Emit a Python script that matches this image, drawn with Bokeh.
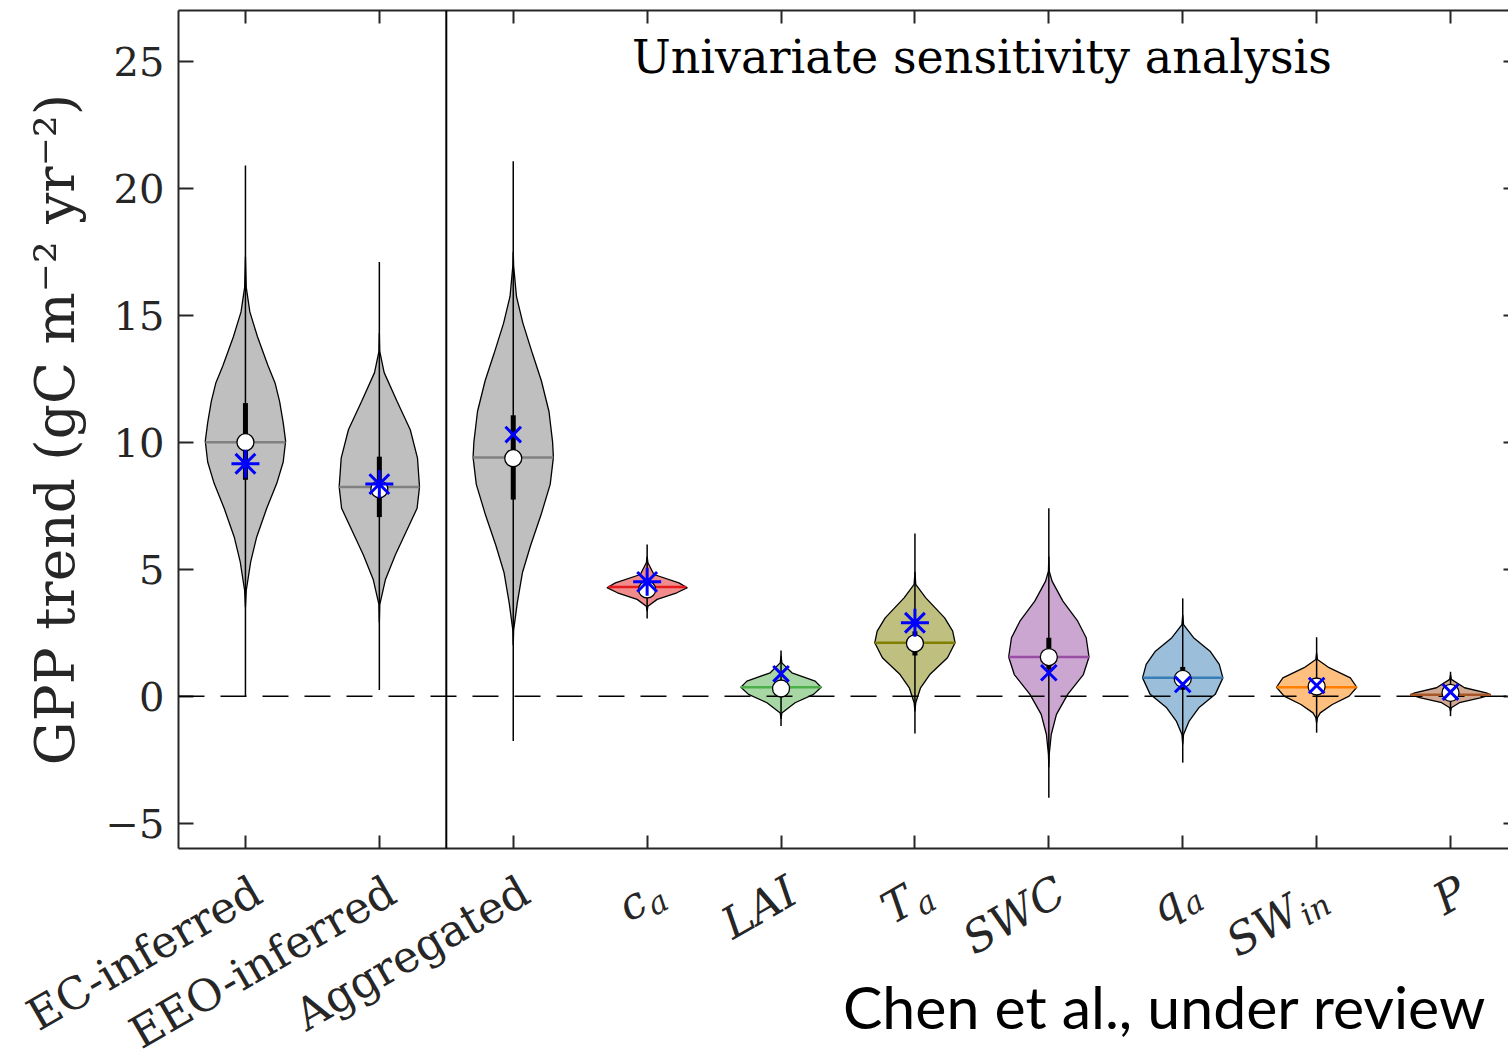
import numpy as np
from math import pi, cos, sin
from bokeh.plotting import figure
from bokeh.layouts import column
from bokeh.models import FixedTicker, LinearAxis, Label, Span, ColumnDataSource
from bokeh.core.properties import value
from bokeh.embed import file_html
from bokeh.resources import INLINE

# ---------------- data ----------------
label_base = ["EC-inferred", "EEO-inferred", "Aggregated", "c", "LAI", "T", "SWC", "q", "SW", "P"]
label_sub = ["", "", "", "a", "", "a", "", "a", "in", ""]
label_italic = [False, False, False, True, True, True, True, True, True, True]

# violin outlines: GPP-trend levels and relative half widths (1 = widest)
prof_y = [
    [17.3, 16.1, 15.13, 14.15, 13.02, 12.32, 11.61, 10.77, 10.04, 9.22, 8.38, 7.40, 6.27, 5.29, 4.16, 3.5],
    [14.3, 13.58, 12.74, 11.61, 10.49, 9.37, 8.24, 7.40, 6.55, 5.57, 4.58, 3.6, 2.9],
    [17.5, 16.95, 15.74, 14.69, 13.48, 12.42, 11.21, 10.0, 9.40, 8.34, 7.13, 5.92, 4.87, 3.66, 2.6, 2.0],
    [5.5, 5.25, 4.79, 4.46, 4.27, 4.07, 3.81, 3.54, 3.35],
    [1.6, 1.31, 0.92, 0.59, 0.35, 0.07, -0.26, -0.66, -0.9],
    [4.9, 4.40, 3.87, 3.08, 2.56, 2.10, 1.51, 0.85, 0.33, -0.26, -0.6],
    [5.5, 4.92, 4.53, 3.74, 2.95, 2.30, 1.54, 0.85, 0.07, -0.72, -1.51, -2.29, -2.8],
    [3.2, 2.82, 2.30, 1.77, 1.25, 0.72, 0.07, -0.46, -0.98, -1.51, -1.9],
    [1.7, 1.44, 1.12, 0.72, 0.35, 0.0, -0.33, -0.66, -0.85, -1.05],
    [0.85, 0.66, 0.33, 0.13, 0.05, -0.07, -0.26, -0.46, -0.6],
]
prof_w = [
    [0, .02, .11, .30, .56, .74, .85, .94, 1.0, .94, .78, .53, .28, .13, .02, 0],
    [0, .01, .12, .44, .77, .95, 1.0, .94, .69, .40, .15, .01, 0],
    [0, .01, .08, .24, .48, .70, .89, .98, 1.0, .92, .69, .43, .23, .10, .01, 0],
    [0, .02, .17, .79, 1.0, .74, .25, .02, 0],
    [0, .02, .27, .85, 1.0, .81, .35, .02, 0],
    [0, .02, .27, .74, .94, 1.0, .81, .37, .14, .02, 0],
    [0, .01, .08, .35, .72, .93, 1.0, .86, .47, .19, .06, .01, 0],
    [0, .02, .27, .68, .91, 1.0, .81, .40, .16, .02, 0],
    [0, .02, .31, .84, 1.0, .81, .39, .09, .02, 0],
    [0, .02, .35, .89, 1.0, .74, .22, .02, 0],
]
mean_val = [10.0, 8.24, 9.40, 4.30, 0.35, 2.10, 1.54, 0.72, 0.35, 0.05]
median_val = [10.0, 8.15, 9.37, 4.20, 0.30, 2.08, 1.54, 0.68, 0.38, 0.13]
q1 = [8.52, 7.05, 7.74, 4.12, 0.20, 1.60, 1.05, 0.25, 0.10, -0.05]
q3 = [11.54, 9.43, 11.06, 4.48, 0.50, 2.55, 2.30, 1.15, 0.60, 0.25]
whisk_lo = [0.0, 0.24, -1.77, 3.06, -1.18, -1.47, -4.0, -2.62, -1.44, -0.79]
whisk_hi = [20.9, 17.1, 21.06, 5.97, 1.80, 6.40, 7.40, 3.85, 2.32, 0.96]
model_val = [9.15, 8.35, 10.3, 4.5, 0.88, 2.89, 0.92, 0.46, 0.42, 0.16]
model_marker = ["asterisk", "asterisk", "x", "asterisk", "x", "asterisk", "x", "x", "x", "x"]
base_colors = ["#808080", "#808080", "#808080", "#E41A1C", "#4DAF4A", "#808000",
               "#984EA3", "#377EB8", "#FF7F00", "#A65628"]
y_ticks = [-5, 0, 5, 10, 15, 20, 25]
title_text = "Univariate sensitivity analysis"
credit_text = "Chen et al., under review"

# ---------------- layout / styling ----------------
W = 1508
FRAME_LEFT = 178
FRAME_BOTTOM = 848
TOP_H = 852                  # height of the main plot canvas
BOT_H = 1060 - TOP_H         # canvas that holds the rotated category labels
X0, X1 = 0.5, 10.433
PPU = (W - FRAME_LEFT) / (X1 - X0)   # pixels per category unit
HALF_W = 0.30
AX = "#262626"
SERIF = "DejaVu Serif"

xpos = list(range(1, len(label_base) + 1))

p = figure(width=W, height=TOP_H, x_range=(X0, X1), y_range=(-6, 27),
           output_backend="svg", toolbar_location=None,
           min_border_left=FRAME_LEFT, min_border_right=0, min_border_top=10,
           min_border_bottom=TOP_H - FRAME_BOTTOM)
p.grid.visible = False
p.outline_line_color = None

# left axis
p.yaxis.ticker = FixedTicker(ticks=y_ticks)
p.yaxis.major_tick_in = 15
p.yaxis.major_tick_out = 0
p.yaxis.minor_tick_line_color = None
p.yaxis.axis_line_width = 2
p.yaxis.axis_line_color = AX
p.yaxis.major_tick_line_width = 2
p.yaxis.major_tick_line_color = AX
p.yaxis.major_label_text_font = SERIF
p.yaxis.major_label_text_font_size = "40px"
p.yaxis.major_label_text_color = AX
p.yaxis.major_label_standoff = 14
p.yaxis.axis_label = "GPP trend (gC m⁻² yr⁻²)"
p.yaxis.axis_label_text_font = SERIF
p.yaxis.axis_label_text_font_size = "55px"
p.yaxis.axis_label_text_font_style = "normal"
p.yaxis.axis_label_text_color = AX
p.yaxis.axis_label_standoff = 16

# bottom / top / right axes: ticks only
p.xaxis.ticker = FixedTicker(ticks=xpos)
p.xaxis.major_tick_in = 13
p.xaxis.major_tick_out = 0
p.xaxis.minor_tick_line_color = None
p.xaxis.axis_line_width = 2
p.xaxis.axis_line_color = AX
p.xaxis.major_tick_line_width = 2
p.xaxis.major_tick_line_color = AX
p.xaxis.major_label_text_color = None
p.xaxis.major_label_standoff = 0

top_ax = LinearAxis(ticker=FixedTicker(ticks=xpos), major_tick_in=13, major_tick_out=0,
                    minor_tick_line_color=None, axis_line_width=2, axis_line_color=AX,
                    major_tick_line_width=2, major_tick_line_color=AX,
                    major_label_text_color=None, major_label_standoff=0)
p.add_layout(top_ax, "above")
right_ax = LinearAxis(ticker=FixedTicker(ticks=y_ticks), major_tick_in=5, major_tick_out=0,
                      minor_tick_line_color=None, axis_line_color=None,
                      major_tick_line_width=2, major_tick_line_color=AX,
                      major_label_text_color=None, major_label_standoff=0)
p.add_layout(right_ax, "right")

# violins
xs, ys = [], []
mx0, mx1 = [], []
for i, (yy, ww) in enumerate(zip(prof_y, prof_w)):
    c = xpos[i]
    yy = np.asarray(yy, float)
    ww = np.asarray(ww, float) * HALF_W
    xs.append(list(c + ww) + list(c - ww[::-1]))
    ys.append(list(yy) + list(yy[::-1]))
    hw = np.interp(mean_val[i], yy[::-1], ww[::-1])
    mx0.append(c - hw)
    mx1.append(c + hw)

vsrc = ColumnDataSource(dict(xs=xs, ys=ys, color=base_colors))
p.patches("xs", "ys", source=vsrc, fill_color="color", fill_alpha=0.5,
          line_color="black", line_width=1.3)

p.add_layout(Span(location=0, dimension="width", line_color="black", line_width=1.5,
                  line_dash="26 16", level="guide"))
p.add_layout(Span(location=2.5, dimension="height", line_color="black", line_width=2))

src = ColumnDataSource(dict(x=xpos, mx0=mx0, mx1=mx1, mean=mean_val, med=median_val,
                            q1=q1, q3=q3, lo=whisk_lo, hi=whisk_hi, color=base_colors))
r = p.segment(x0="mx0", y0="mean", x1="mx1", y1="mean", source=src, line_color="color", line_width=2.5)
r.level = "annotation"
r = p.segment(x0="x", y0="lo", x1="x", y1="hi", source=src, line_color="black", line_width=1.5)
r.level = "annotation"
r = p.segment(x0="x", y0="q1", x1="x", y1="q3", source=src, line_color="black", line_width=5)
r.level = "annotation"
r = p.scatter("x", "med", source=src, marker="circle", size=17, fill_color="white",
              line_color="black", line_width=1.3)
r.level = "annotation"

for mk, sz in (("asterisk", 28), ("x", 22)):
    idx = [i for i, m in enumerate(model_marker) if m == mk]
    r = p.scatter([xpos[i] for i in idx], [model_val[i] for i in idx], marker=mk, size=sz,
                  line_color="#0000FF", line_width=3)
    r.level = "annotation"

p.add_layout(Label(x=6.5, y=25.15, text=title_text, text_align="center",
                   text_baseline="alphabetic", text_font=SERIF, text_font_size="46px",
                   text_color="black"))

# ---------------- lower strip with the category labels ----------------
q = figure(width=W, height=BOT_H, x_range=(X0 - FRAME_LEFT / PPU, X1), y_range=(0, BOT_H),
           output_backend="svg", toolbar_location=None, x_axis_type=None, y_axis_type=None,
           min_border_left=0, min_border_right=0, min_border_top=0, min_border_bottom=0)
q.grid.visible = False
q.outline_line_color = None

for fig in (p, q):
    if "frame_align" in fig.properties():
        fig.frame_align = False

ANG = pi / 6
LABEL_DROP = 39       # label anchor below the frame, px
LABEL_SHIFT = 12      # label anchor right of the tick, px
LABEL_PX = 44
SUB_PX = 31
SUB_DROP = 12         # subscript shift below the base text, px (perpendicular)
SUB_EM = 0.62         # approx. advance of one subscript glyph, in em
anchor_y = BOT_H - (FRAME_BOTTOM + LABEL_DROP - TOP_H)
dvec = np.array([cos(ANG), sin(ANG)])        # along the text, px (y up)
nvec = np.array([sin(ANG), -cos(ANG)])       # perpendicular, towards below the text

base_x, base_y, base_t, base_st = [], [], [], []
sub_x, sub_y, sub_t = [], [], []
for i, name in enumerate(label_base):
    ax_px = np.array([LABEL_SHIFT, 0.0])
    sub_w = len(label_sub[i]) * SUB_EM * SUB_PX
    b = ax_px - dvec * sub_w
    base_x.append(xpos[i] + b[0] / PPU)
    base_y.append(anchor_y + b[1])
    base_t.append(name)
    base_st.append("italic" if label_italic[i] else "normal")
    if label_sub[i]:
        s = b + nvec * SUB_DROP + dvec * 1.0
        sub_x.append(xpos[i] + s[0] / PPU)
        sub_y.append(anchor_y + s[1])
        sub_t.append(label_sub[i])

for style in ("normal", "italic"):
    idx = [k for k in range(len(base_t)) if base_st[k] == style]
    q.text(x=[base_x[k] for k in idx], y=[base_y[k] for k in idx], text=[base_t[k] for k in idx],
           angle=ANG, text_align="right", text_baseline="middle",
           text_font=value(SERIF), text_font_size=value(f"{LABEL_PX}px"),
           text_font_style=value(style), text_color=AX)
q.text(x=sub_x, y=sub_y, text=sub_t, angle=ANG, text_align="left", text_baseline="middle",
       text_font=value(SERIF), text_font_size=value(f"{SUB_PX}px"),
       text_font_style=value("italic"), text_color=AX)

credit_right_px = 1486
credit_base_px = 1006
q.text(x=[X0 + (credit_right_px - FRAME_LEFT) / PPU], y=[1060 - credit_base_px],
       text=[credit_text], text_align="right", text_baseline="alphabetic",
       text_font=value("Lato"), text_font_size=value("59px"), text_color="black")

layout = column(p, q, spacing=0)
open("out.html", "w").write(file_html(layout, INLINE))
